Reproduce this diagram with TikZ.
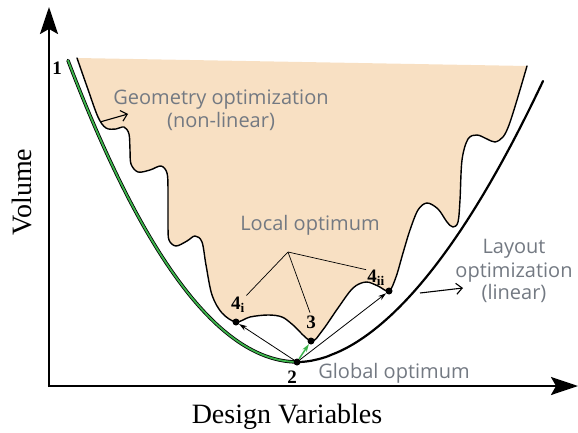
\documentclass[tikz,border=0pt]{standalone}
\usepackage{fontspec}
\setmainfont{Liberation Serif}
\newfontfamily\lblfont{Open Sans}
\usetikzlibrary{arrows.meta}
\definecolor{peach}{RGB}{248,224,195}
\definecolor{lblgray}{RGB}{115,121,130}
\definecolor{curvegreen}{RGB}{60,180,75}
\begin{document}
\begin{tikzpicture}[x=1pt,y=-1pt,
  axis/.style={line width=2.2pt, -{Stealth[length=27pt,width=18pt,inset=5pt]}},
  boundary/.style={line width=1.4pt, line join=round, line cap=round},
  optlabel/.style={font=\lblfont\fontsize{20}{23}\selectfont, text=lblgray, inner sep=0pt},
  ptlabel/.style={font=\fontsize{19}{22}\selectfont\bfseries, inner sep=0pt},
  dot/.style={circle, fill=black, inner sep=0pt, minimum size=7pt},
  pointer/.style={line width=1.1pt, -{Straight Barb[length=6pt,width=11pt]}},
  move/.style={line width=0.8pt, -{Stealth[length=8pt,width=5pt]}},
  leader/.style={line width=0.7pt},
  axislabel/.style={font=\fontsize{28}{32}\selectfont, inner sep=0pt}
]
\useasboundingbox (0,0) rectangle (578,433);

% feasible (shaded) region
\draw[boundary, fill=peach] plot[smooth, tension=0.55] coordinates {
 (77,58) (87.5,88) (98,117) (106,128) (116,129) (124,127) (129,134) (130,150)
 (131,164) (138,172) (150,170) (161,166) (167,173) (168,190) (168,225)
 (169,240) (176,246) (187,241) (195,236) (202,242) (206,265) (212,295)
 (222,313) (236,322) (250,317) (268,315) (282,317) (293,325) (311,341)
 (322,331) (338,308) (353,288) (366,282) (378,286) (389,291) (396,277)
 (403,253) (410,230) (418,210) (427,203) (438,209) (447,222) (453,227)
 (458,222) (460,200) (462,160) (468,139) (477,135) (487,139) (495,142)
 (503,137) (509,125) (517,100) (527,66)};

% outer curve, right part
\draw[line width=2.2pt, line cap=round] plot[domain=298.2:543, samples=90, smooth]
 (\x, {362-281*((\x-298)/245)^1.85});
% outer curve, left part (green)
\draw[line width=3.4pt, line cap=round] plot[domain=68:298, samples=90, smooth]
 (\x, {362-301.5*((298-\x)/230)^2});
\draw[curvegreen, line width=1.8pt, line cap=round] plot[domain=68:298, samples=90, smooth]
 (\x, {362-301.5*((298-\x)/230)^2});

% axes
\coordinate (O) at (49,386);
\coordinate (ytop) at (49,7);
\coordinate (xend) at (578,386);
\draw[axis] ([yshift=-1.1pt]O) -- (ytop);
\draw[axis] ([xshift=-1.1pt]O) -- (xend);
\node[axislabel, rotate=90, anchor=base] (vol) at (31,192) {Volume};
\node[axislabel, anchor=base] (dv) at (287,423) {Design Variables};

% points
\node[dot] (p2) at (297,362) {};
\node[dot] (p3) at (311,341) {};
\node[dot] (p4i) at (236,322) {};
\node[dot] (p4ii) at (389,291) {};
\draw[move] (p2) -- (p4i);
\draw[move] (p2) -- (p4ii);
\draw[move, curvegreen, line width=1.4pt] (p2) -- (p3);

\node[ptlabel] (l1) at (57,68) {1};
\node[ptlabel] (l2) at (292,377) {2};
\node[ptlabel] (l3) at (311,322) {3};
\node[ptlabel] (l4i) at (238,305) {4\textsubscript{i}};
\node[ptlabel] (l4ii) at (376,278) {4\textsubscript{ii}};

% text labels
\node[optlabel, anchor=base] (geo1) at (221,105) {Geometry optimization};
\node[optlabel, anchor=base] (geo2) at (221,128) {(non-linear)};
\node[optlabel, anchor=base] (loc) at (310,230) {Local optimum};
\node[optlabel, anchor=base] (glob) at (394,378) {Global optimum};
\node[optlabel, anchor=base] (lay1) at (514,253) {Layout};
\node[optlabel, anchor=base] (lay2) at (514,277) {optimization};
\node[optlabel, anchor=base] (lay3) at (514,299) {(linear)};

% leaders from "Local optimum"
\coordinate (apex) at (288,252);
\draw[leader, shorten >=2pt] (apex) -- (l4i.north east);
\draw[leader, shorten >=3pt] (apex) -- (l3.north);
\draw[leader, shorten >=1pt] (apex) -- (l4ii.north west);

% pointers
\coordinate (geoTail) at (100,122);
\coordinate (geoTip) at (128,114);
\draw[pointer] (geoTail) -- (geoTip);
\coordinate (layTail) at (420,293);
\coordinate (layTip) at (463,288);
\draw[pointer] (layTail) -- (layTip);
\end{tikzpicture}
\end{document}
